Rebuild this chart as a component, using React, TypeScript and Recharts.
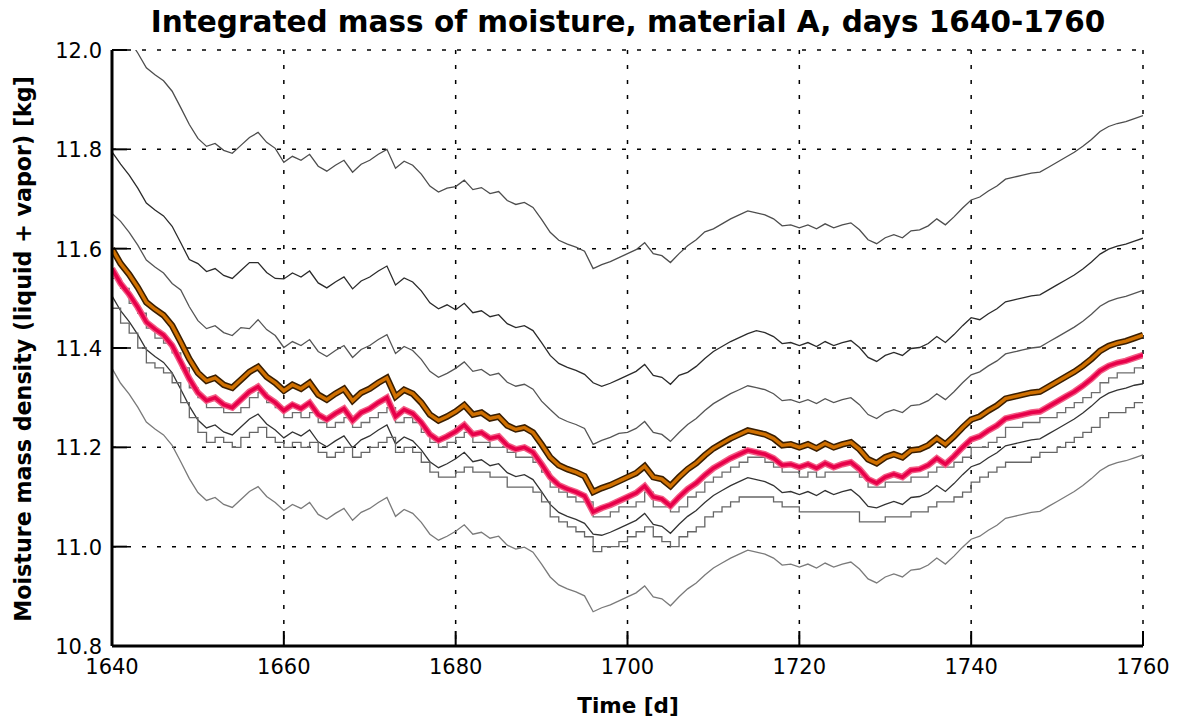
import { CartesianGrid, Line, LineChart, XAxis, YAxis } from "recharts";

// ensemble of moisture runs, kg, one value per day 1640..1760
const DAYS = Array.from({ length: 121 }, (_, i) => 1640 + i);

const runTop = [
  12.072, 12.042, 12.02, 11.994, 11.964, 11.95, 11.938, 11.917, 11.884, 11.85,
  11.822, 11.806, 11.812, 11.798, 11.792, 11.808, 11.824, 11.834, 11.814, 11.802,
  11.774, 11.786, 11.778, 11.79, 11.766, 11.756, 11.768, 11.778, 11.754, 11.77,
  11.778, 11.79, 11.8, 11.762, 11.776, 11.768, 11.75, 11.726, 11.714, 11.722,
  11.725, 11.738, 11.719, 11.723, 11.711, 11.715, 11.697, 11.689, 11.693, 11.683,
  11.659, 11.633, 11.617, 11.609, 11.603, 11.595, 11.56, 11.568, 11.574, 11.582,
  11.59, 11.598, 11.612, 11.59, 11.586, 11.572, 11.59, 11.606, 11.618, 11.634,
  11.64, 11.65, 11.66, 11.668, 11.676, 11.672, 11.668, 11.66, 11.646, 11.648,
  11.642, 11.648, 11.64, 11.65, 11.642, 11.648, 11.652, 11.638, 11.618, 11.61,
  11.622, 11.628, 11.622, 11.636, 11.638, 11.646, 11.66, 11.648, 11.664, 11.682,
  11.698, 11.704, 11.716, 11.726, 11.74, 11.744, 11.748, 11.752, 11.754, 11.764,
  11.774, 11.784, 11.794, 11.806, 11.82, 11.836, 11.846, 11.852, 11.856, 11.862,
  11.868,
];

const runSecond = [
  11.795, 11.77, 11.748, 11.722, 11.692, 11.678, 11.666, 11.645, 11.612, 11.578,
  11.57, 11.554, 11.56, 11.546, 11.54, 11.556, 11.572, 11.572, 11.552, 11.54,
  11.539, 11.551, 11.543, 11.555, 11.531, 11.521, 11.533, 11.543, 11.519, 11.535,
  11.543, 11.555, 11.565, 11.527, 11.541, 11.533, 11.515, 11.491, 11.479, 11.487,
  11.477, 11.49, 11.471, 11.475, 11.463, 11.467, 11.449, 11.441, 11.445, 11.435,
  11.411, 11.385, 11.369, 11.361, 11.355, 11.347, 11.33, 11.323, 11.329, 11.337,
  11.345, 11.353, 11.367, 11.345, 11.341, 11.327, 11.345, 11.351, 11.363, 11.379,
  11.393, 11.403, 11.413, 11.421, 11.429, 11.435, 11.431, 11.423, 11.409, 11.411,
  11.405, 11.411, 11.403, 11.413, 11.405, 11.411, 11.415, 11.401, 11.381, 11.373,
  11.385, 11.391, 11.385, 11.399, 11.401, 11.409, 11.423, 11.411, 11.427, 11.445,
  11.461, 11.457, 11.469, 11.479, 11.493, 11.497, 11.501, 11.505, 11.507, 11.517,
  11.527, 11.537, 11.547, 11.559, 11.573, 11.589, 11.599, 11.605, 11.609, 11.615,
  11.621,
];

const runThird = [
  11.671, 11.655, 11.633, 11.607, 11.577, 11.563, 11.551, 11.53, 11.517, 11.483,
  11.455, 11.439, 11.445, 11.431, 11.425, 11.441, 11.439, 11.457, 11.437, 11.425,
  11.401, 11.413, 11.405, 11.417, 11.393, 11.383, 11.395, 11.405, 11.381, 11.397,
  11.405, 11.417, 11.427, 11.389, 11.403, 11.395, 11.377, 11.353, 11.341, 11.349,
  11.359, 11.372, 11.353, 11.357, 11.345, 11.349, 11.331, 11.323, 11.327, 11.317,
  11.293, 11.276, 11.26, 11.252, 11.246, 11.238, 11.206, 11.214, 11.22, 11.228,
  11.23, 11.238, 11.252, 11.23, 11.226, 11.212, 11.23, 11.246, 11.258, 11.274,
  11.288, 11.298, 11.308, 11.316, 11.324, 11.32, 11.316, 11.308, 11.294, 11.296,
  11.29, 11.296, 11.288, 11.298, 11.29, 11.296, 11.3, 11.286, 11.266, 11.258,
  11.27, 11.276, 11.27, 11.284, 11.286, 11.294, 11.308, 11.296, 11.312, 11.33,
  11.346, 11.352, 11.364, 11.374, 11.388, 11.392, 11.396, 11.4, 11.402, 11.412,
  11.422, 11.432, 11.442, 11.454, 11.468, 11.484, 11.494, 11.5, 11.504, 11.51,
  11.516,
];

const orangeRun = [
  11.6, 11.57, 11.548, 11.522, 11.492, 11.478, 11.466, 11.445, 11.412, 11.378,
  11.35, 11.334, 11.34, 11.326, 11.32, 11.336, 11.352, 11.362, 11.342, 11.33,
  11.314, 11.326, 11.318, 11.33, 11.306, 11.296, 11.308, 11.318, 11.294, 11.31,
  11.318, 11.33, 11.34, 11.302, 11.316, 11.308, 11.29, 11.266, 11.254, 11.262,
  11.272, 11.285, 11.266, 11.27, 11.258, 11.262, 11.244, 11.236, 11.24, 11.23,
  11.206, 11.18, 11.164, 11.156, 11.15, 11.142, 11.11, 11.118, 11.124, 11.132,
  11.14, 11.148, 11.162, 11.14, 11.136, 11.122, 11.14, 11.156, 11.168, 11.184,
  11.198, 11.208, 11.218, 11.226, 11.234, 11.23, 11.226, 11.218, 11.204, 11.206,
  11.2, 11.206, 11.198, 11.208, 11.2, 11.206, 11.21, 11.196, 11.176, 11.168,
  11.18, 11.186, 11.18, 11.194, 11.196, 11.204, 11.218, 11.206, 11.222, 11.24,
  11.256, 11.262, 11.274, 11.284, 11.298, 11.302, 11.306, 11.31, 11.312, 11.322,
  11.332, 11.342, 11.352, 11.364, 11.378, 11.394, 11.404, 11.41, 11.414, 11.42,
  11.426,
];

const redRun = [
  11.56, 11.53, 11.508, 11.482, 11.452, 11.438, 11.426, 11.405, 11.372, 11.338,
  11.31, 11.294, 11.3, 11.286, 11.28, 11.296, 11.312, 11.322, 11.302, 11.29,
  11.274, 11.286, 11.278, 11.29, 11.266, 11.256, 11.268, 11.278, 11.254, 11.27,
  11.278, 11.29, 11.3, 11.262, 11.276, 11.268, 11.25, 11.226, 11.214, 11.222,
  11.232, 11.245, 11.226, 11.23, 11.218, 11.222, 11.204, 11.196, 11.2, 11.19,
  11.166, 11.14, 11.124, 11.116, 11.11, 11.102, 11.07, 11.078, 11.084, 11.092,
  11.1, 11.108, 11.122, 11.1, 11.096, 11.082, 11.1, 11.116, 11.128, 11.144,
  11.158, 11.168, 11.178, 11.186, 11.194, 11.19, 11.186, 11.178, 11.164, 11.166,
  11.16, 11.166, 11.158, 11.168, 11.16, 11.166, 11.17, 11.156, 11.136, 11.128,
  11.14, 11.146, 11.14, 11.154, 11.156, 11.164, 11.178, 11.166, 11.182, 11.2,
  11.216, 11.222, 11.234, 11.244, 11.258, 11.262, 11.266, 11.27, 11.272, 11.282,
  11.292, 11.302, 11.312, 11.324, 11.338, 11.354, 11.364, 11.37, 11.374, 11.38,
  11.386,
];

// stored at 0.01 kg resolution, drawn as steps
const stepUpper = [
  11.54, 11.52, 11.49, 11.47, 11.44, 11.42, 11.41, 11.39, 11.36, 11.32,
  11.3, 11.28, 11.28, 11.27, 11.27, 11.28, 11.3, 11.31, 11.29, 11.28,
  11.26, 11.27, 11.26, 11.27, 11.25, 11.24, 11.25, 11.26, 11.24, 11.25,
  11.26, 11.27, 11.28, 11.25, 11.26, 11.25, 11.23, 11.21, 11.2, 11.21,
  11.22, 11.23, 11.21, 11.21, 11.2, 11.2, 11.19, 11.18, 11.18, 11.17,
  11.15, 11.12, 11.11, 11.1, 11.09, 11.09, 11.06, 11.06, 11.07, 11.08,
  11.08, 11.09, 11.11, 11.08, 11.08, 11.07, 11.08, 11.1, 11.11, 11.13,
  11.14, 11.15, 11.16, 11.17, 11.18, 11.18, 11.17, 11.16, 11.15, 11.15,
  11.14, 11.15, 11.14, 11.15, 11.15, 11.15, 11.15, 11.14, 11.12, 11.12,
  11.13, 11.13, 11.13, 11.14, 11.14, 11.15, 11.16, 11.16, 11.17, 11.18,
  11.2, 11.2, 11.21, 11.22, 11.24, 11.24, 11.25, 11.25, 11.26, 11.26,
  11.27, 11.28, 11.29, 11.3, 11.31, 11.33, 11.34, 11.35, 11.35, 11.36,
  11.36,
];

const runDark = [
  11.505, 11.475, 11.453, 11.427, 11.397, 11.383, 11.371, 11.35, 11.317, 11.283,
  11.255, 11.239, 11.245, 11.231, 11.225, 11.241, 11.257, 11.267, 11.247, 11.235,
  11.219, 11.231, 11.223, 11.235, 11.211, 11.201, 11.213, 11.223, 11.199, 11.215,
  11.223, 11.235, 11.245, 11.207, 11.221, 11.213, 11.195, 11.171, 11.159, 11.167,
  11.177, 11.19, 11.171, 11.175, 11.163, 11.167, 11.149, 11.141, 11.145, 11.135,
  11.111, 11.085, 11.069, 11.061, 11.055, 11.047, 11.025, 11.023, 11.029, 11.037,
  11.045, 11.053, 11.067, 11.045, 11.041, 11.027, 11.045, 11.061, 11.073, 11.089,
  11.103, 11.113, 11.123, 11.131, 11.139, 11.135, 11.131, 11.123, 11.109, 11.111,
  11.105, 11.111, 11.103, 11.113, 11.105, 11.111, 11.115, 11.101, 11.081, 11.078,
  11.085, 11.091, 11.085, 11.099, 11.101, 11.109, 11.123, 11.111, 11.127, 11.145,
  11.161, 11.167, 11.179, 11.189, 11.203, 11.207, 11.211, 11.215, 11.217, 11.227,
  11.237, 11.247, 11.257, 11.269, 11.283, 11.299, 11.309, 11.315, 11.319, 11.325,
  11.328,
];

const stepLower = [
  11.48, 11.45, 11.43, 11.4, 11.37, 11.36, 11.35, 11.33, 11.29, 11.26,
  11.23, 11.21, 11.22, 11.21, 11.2, 11.22, 11.23, 11.24, 11.22, 11.21,
  11.2, 11.21, 11.2, 11.21, 11.19, 11.18, 11.19, 11.2, 11.18, 11.19,
  11.2, 11.21, 11.22, 11.19, 11.2, 11.19, 11.17, 11.15, 11.14, 11.14,
  11.15, 11.16, 11.15, 11.15, 11.14, 11.14, 11.12, 11.12, 11.12, 11.11,
  11.09, 11.06, 11.05, 11.04, 11.03, 11.02, 10.99, 11.0, 11.0, 11.01,
  11.02, 11.03, 11.04, 11.02, 11.01, 11.0, 11.02, 11.03, 11.04, 11.06,
  11.07, 11.08, 11.09, 11.1, 11.1, 11.1, 11.1, 11.09, 11.08, 11.08,
  11.07, 11.07, 11.07, 11.07, 11.07, 11.07, 11.07, 11.05, 11.05, 11.05,
  11.06, 11.06, 11.06, 11.07, 11.07, 11.08, 11.09, 11.09, 11.1, 11.11,
  11.13, 11.14, 11.15, 11.16, 11.17, 11.17, 11.17, 11.18, 11.19, 11.19,
  11.2, 11.21, 11.22, 11.23, 11.24, 11.26, 11.27, 11.27, 11.28, 11.29,
  11.29,
];

const runBottom = [
  11.359, 11.329, 11.307, 11.281, 11.251, 11.237, 11.225, 11.204, 11.171, 11.137,
  11.109, 11.093, 11.099, 11.085, 11.079, 11.095, 11.111, 11.121, 11.101, 11.089,
  11.073, 11.085, 11.077, 11.089, 11.065, 11.055, 11.067, 11.077, 11.053, 11.069,
  11.077, 11.089, 11.099, 11.061, 11.075, 11.067, 11.049, 11.025, 11.013, 11.021,
  11.031, 11.044, 11.025, 11.029, 11.017, 11.021, 11.003, 10.995, 10.999, 10.989,
  10.965, 10.939, 10.923, 10.915, 10.909, 10.901, 10.869, 10.877, 10.883, 10.891,
  10.899, 10.907, 10.921, 10.899, 10.895, 10.881, 10.899, 10.915, 10.927, 10.943,
  10.957, 10.967, 10.977, 10.985, 10.993, 10.989, 10.985, 10.977, 10.963, 10.965,
  10.959, 10.965, 10.957, 10.967, 10.959, 10.965, 10.969, 10.955, 10.935, 10.927,
  10.939, 10.945, 10.939, 10.953, 10.955, 10.963, 10.977, 10.965, 10.981, 10.999,
  11.015, 11.021, 11.033, 11.043, 11.057, 11.061, 11.065, 11.069, 11.071, 11.081,
  11.091, 11.101, 11.111, 11.123, 11.137, 11.153, 11.163, 11.169, 11.173, 11.179,
  11.185,
];

const X_TICKS = [1640, 1660, 1680, 1700, 1720, 1740, 1760];
const Y_TICKS = [10.8, 11.0, 11.2, 11.4, 11.6, 11.8, 12.0];

const data = DAYS.map((day, i) => ({
  day,
  runTop: runTop[i],
  runSecond: runSecond[i],
  runThird: runThird[i],
  stepUpper: stepUpper[i],
  runDark: runDark[i],
  stepLower: stepLower[i],
  runBottom: runBottom[i],
  orange: orangeRun[i],
  red: redRun[i],
}));

const FONT = "'DejaVu Sans', Verdana, sans-serif";
const TICK_LEN = 15;

function LeftTick({ x, y, payload }: any) {
  return (
    <g>
      <line x1={x} x2={x + TICK_LEN} y1={y} y2={y} stroke="#000" strokeWidth={2} />
      <text x={x - 10} y={y + 8} textAnchor="end" fontSize={21} fontFamily={FONT} fill="#000">
        {Number(payload.value).toFixed(1)}
      </text>
    </g>
  );
}

function BottomTick({ x, y, payload }: any) {
  return (
    <g>
      <line x1={x} x2={x} y1={y} y2={y - TICK_LEN} stroke="#000" strokeWidth={2} />
      <text x={x} y={y + 28} textAnchor="middle" fontSize={21} fontFamily={FONT} fill="#000">
        {payload.value}
      </text>
    </g>
  );
}

function TopTick({ x, y }: any) {
  return <line x1={x} x2={x} y1={y} y2={y + TICK_LEN} stroke="#000" strokeWidth={2} />;
}

function RightTick({ x, y }: any) {
  return <line x1={x} x2={x - TICK_LEN} y1={y} y2={y} stroke="#000" strokeWidth={2} />;
}

const grayLines = [
  { key: "runTop", color: "#4d4d4d", type: "linear" },
  { key: "runSecond", color: "#2b2b2b", type: "linear" },
  { key: "runThird", color: "#555555", type: "linear" },
  { key: "stepUpper", color: "#6e6e6e", type: "stepAfter" },
  { key: "runDark", color: "#333333", type: "linear" },
  { key: "stepLower", color: "#666666", type: "stepAfter" },
  { key: "runBottom", color: "#7a7a7a", type: "linear" },
] as const;

const labelStyle = {
  position: "absolute" as const,
  fontFamily: FONT,
  fontWeight: "bold" as const,
  whiteSpace: "nowrap" as const,
  lineHeight: 1.2,
};

export default function App() {
  return (
    <div style={{ position: "relative", width: 1171, height: 711 }}>
      <LineChart
        width={1171}
        height={705}
        data={data}
        margin={{ top: 42, right: 36, left: 0, bottom: 0 }}
      >
        <CartesianGrid
          stroke="#000"
          strokeWidth={1.5}
          strokeDasharray="4 11"
          horizontalValues={Y_TICKS}
          verticalValues={X_TICKS}
        />
        <XAxis
          dataKey="day"
          type="number"
          domain={[1640, 1760]}
          ticks={X_TICKS}
          allowDataOverflow
          height={67}
          tickSize={0}
          tickMargin={0}
          tickLine={false}
          axisLine={{ stroke: "#000", strokeWidth: 3 }}
          tick={<BottomTick />}
          interval={0}
        />
        <XAxis
          xAxisId="top"
          orientation="top"
          dataKey="day"
          type="number"
          domain={[1640, 1760]}
          ticks={X_TICKS}
          allowDataOverflow
          height={0}
          tickSize={0}
          tickMargin={0}
          tickLine={false}
          axisLine={{ stroke: "#000", strokeWidth: 3 }}
          tick={<TopTick />}
          interval={0}
        />
        <YAxis
          type="number"
          domain={[10.8, 12.0]}
          ticks={Y_TICKS}
          allowDataOverflow
          width={104}
          tickSize={0}
          tickMargin={0}
          tickLine={false}
          axisLine={{ stroke: "#000", strokeWidth: 3 }}
          tick={<LeftTick />}
          interval={0}
        />
        <YAxis
          yAxisId="right"
          orientation="right"
          type="number"
          domain={[10.8, 12.0]}
          ticks={Y_TICKS}
          allowDataOverflow
          width={0}
          tickSize={0}
          tickMargin={0}
          tickLine={false}
          axisLine={{ stroke: "#000", strokeWidth: 3 }}
          tick={<RightTick />}
          interval={0}
        />
        {grayLines.map((g) => (
          <Line
            key={g.key}
            dataKey={g.key}
            type={g.type}
            stroke={g.color}
            strokeWidth={1.3}
            dot={false}
            activeDot={false}
            isAnimationActive={false}
          />
        ))}
        <Line dataKey="orange" type="linear" stroke="#3a1e00" strokeWidth={6.5} dot={false} activeDot={false} isAnimationActive={false} />
        <Line dataKey="orange" type="linear" stroke="#d07000" strokeWidth={3.4} dot={false} activeDot={false} isAnimationActive={false} />
        <Line dataKey="red" type="linear" stroke="#f25c85" strokeWidth={6.5} dot={false} activeDot={false} isAnimationActive={false} />
        <Line dataKey="red" type="linear" stroke="#e8004a" strokeWidth={3.6} dot={false} activeDot={false} isAnimationActive={false} />
      </LineChart>
      <div style={{ ...labelStyle, left: 620, top: 15, fontSize: 29.5, transform: "translate(-50%, -50%)" }}>
        Integrated mass of moisture, material A, days 1640-1760
      </div>
      <div style={{ ...labelStyle, left: 620, top: 698, fontSize: 21.5, transform: "translate(-50%, -50%)" }}>
        Time [d]
      </div>
      <div
        style={{
          ...labelStyle,
          left: 15,
          top: 341,
          fontSize: 22.2,
          transform: "translate(-50%, -50%) rotate(-90deg)",
        }}
      >
        Moisture mass density (liquid + vapor) [kg]
      </div>
    </div>
  );
}
